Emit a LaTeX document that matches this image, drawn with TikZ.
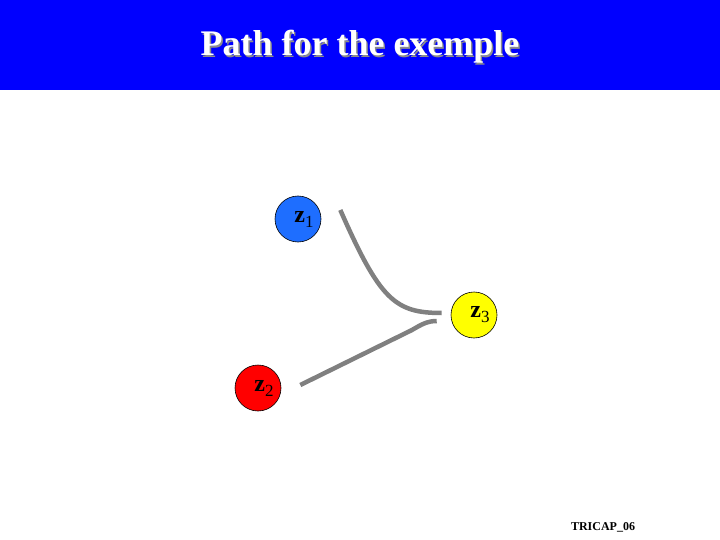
\documentclass[tikz,border=0pt]{standalone}
\usepackage{fontspec}
\setmainfont{Liberation Serif}
\usetikzlibrary{positioning,calc}

\definecolor{headblue}{RGB}{0,0,255}
\definecolor{ballblue}{RGB}{30,110,255}
\definecolor{ballred}{RGB}{255,0,0}
\definecolor{ballyellow}{RGB}{255,255,0}
\definecolor{pathgray}{RGB}{128,128,128}

\newcommand{\zlab}[1]{\fontsize{24}{24}\selectfont\textbf{z}\raisebox{-5pt}{\fontsize{17}{17}\selectfont #1}}

\begin{document}
\begin{tikzpicture}[
    x=1pt, y=-1pt,
    ball/.style={circle, draw=black, line width=0.6pt, minimum size=46pt, inner sep=0pt},
    zpath/.style={draw=pathgray, line width=4.5pt},
    titletext/.style={font=\fontsize{36}{36}\selectfont\bfseries}
]
    \useasboundingbox (0,0) rectangle (720,540);

    % Bandeau du titre
    \fill[headblue] (0,0) rectangle (720,90);
    \node[titletext, text=black!45] (title_shadow) at (361.5,48.5) {Path for the exemple};
    \node[titletext, text=white] (title) at (360,47) {Path for the exemple};

    % Les trois points
    \node[ball, fill=ballblue] (z1) at (298,219) {};
    \node[ball, fill=ballred] (z2) at (258,388) {};
    \node[ball, fill=ballyellow] (z3) at (474,315) {};

    \node at ([xshift=6pt]z1.center) {\zlab{1}};
    \node at ([xshift=6pt]z2.center) {\zlab{2}};
    \node at ([xshift=6pt]z3.center) {\zlab{3}};

    % Chemins vers z3
    \draw[zpath] ([shift={(19,-9)}]z1.east) .. controls (380,300) and (395,313) .. ([shift={(-9,-2)}]z3.west);
    \draw[zpath] ([shift={(19,-3)}]z2.east) -- (412,330) .. controls (422,324) and (428,321) .. ([shift={(-14,6)}]z3.west);

    % Pied de page
    \node[font=\fontsize{12}{12}\selectfont\bfseries] (footer) at (603,527) {TRICAP\_06};

\end{tikzpicture}
\end{document}
